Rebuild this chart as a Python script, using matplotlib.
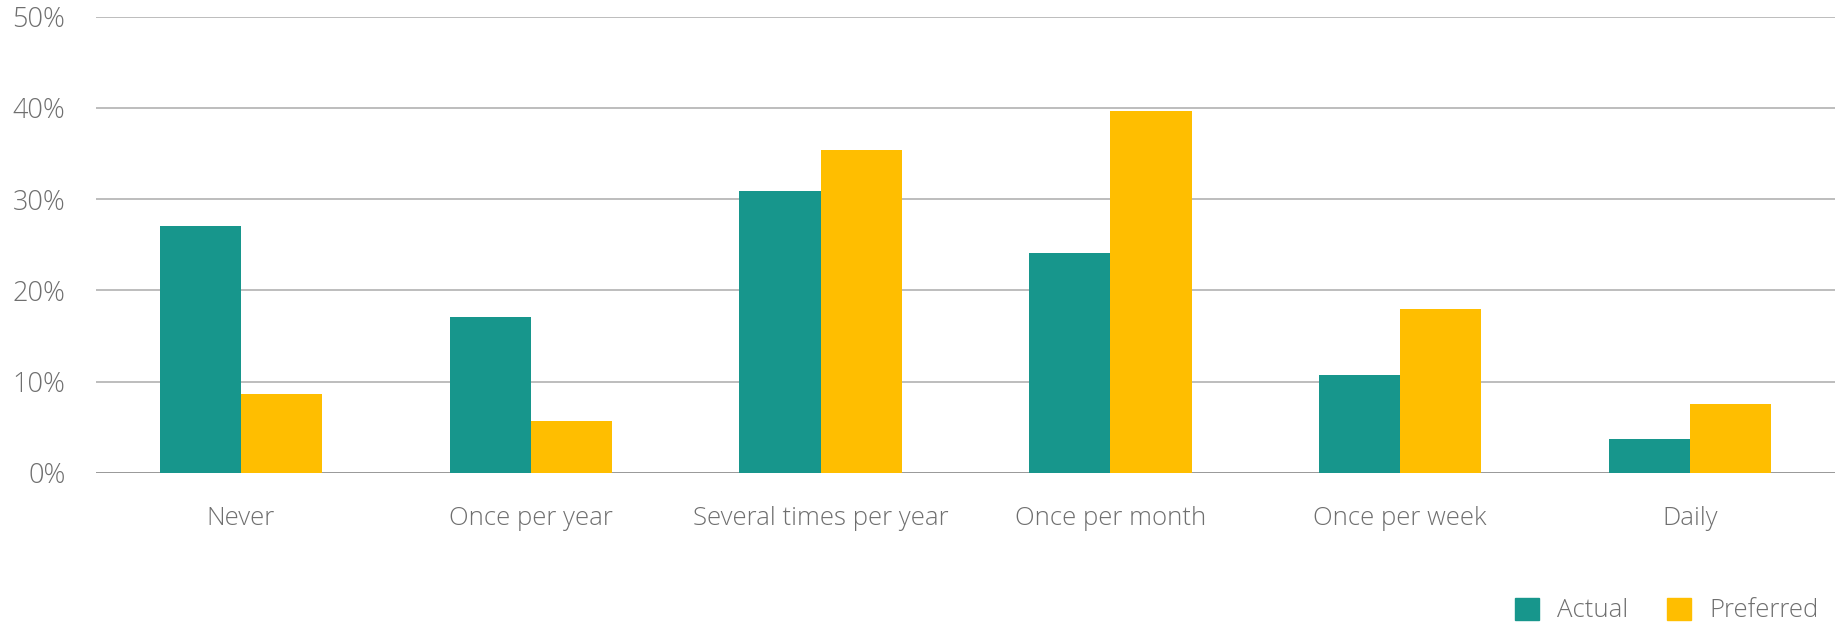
import matplotlib.pyplot as plt
import matplotlib.patches as mpatches
import numpy as np

plt.rcParams['font.family'] = ['Open Sans', 'DejaVu Sans']
plt.rcParams['font.weight'] = 'light'

categories = ['Never', 'Once per year', 'Several times per year',
              'Once per month', 'Once per week', 'Daily']
actual = [27.1, 17.1, 30.9, 24.1, 10.7, 3.7]
preferred = [8.6, 5.7, 35.4, 39.7, 18.0, 7.6]
yticks = [0, 10, 20, 30, 40, 50]

teal = '#17968C'
gold = '#FFBE00'
text_gray = '#6f6f6f'

fig = plt.figure(figsize=(18.39, 6.23), dpi=100)
ax = fig.add_axes([0.0522, 0.2408, 0.9456, 0.7327])

x = np.arange(len(categories))
w = 0.28
ax.bar(x - w / 2, actual, width=w, color=teal, zorder=3)
ax.bar(x + w / 2, preferred, width=w, color=gold, zorder=3)

ax.set_xlim(-0.5, len(categories) - 0.5)
ax.set_ylim(0, 50)
ax.set_yticks(yticks)
ax.set_yticklabels([f'{v}%' for v in yticks])
for v in yticks:
    ax.axhline(v, color='#999999' if v == 0 else '#bdbdbd', lw=1.4, zorder=1)

ax.set_xticks(x)
ax.set_xticklabels(categories)
ax.tick_params(axis='x', length=0, labelsize=18.5, labelcolor=text_gray, pad=23.5)
ax.tick_params(axis='y', length=0, labelsize=19.5, labelcolor=text_gray, pad=22)
for s in ax.spines.values():
    s.set_visible(False)

handles = [mpatches.Patch(color=teal, label='Actual'),
           mpatches.Patch(color=gold, label='Preferred')]
leg = fig.legend(handles=handles, loc='center right', bbox_to_anchor=(0.9945, 0.02),
                 ncol=2, frameon=False, fontsize=18.5, handlelength=0.95,
                 handleheight=0.95, handletextpad=0.7, columnspacing=1.5,
                 borderaxespad=0)
for t in leg.get_texts():
    t.set_color(text_gray)

fig.savefig('out.png', dpi=100)
